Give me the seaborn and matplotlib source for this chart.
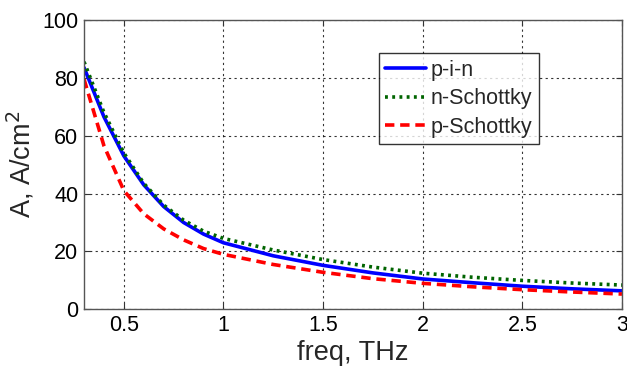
import matplotlib
matplotlib.use("Agg")
import matplotlib.pyplot as plt
import seaborn as sns
import pandas as pd

freq = [0.3, 0.4, 0.5, 0.6, 0.7, 0.8, 0.9, 1.0, 1.25, 1.5, 1.75, 2.0, 2.25, 2.5, 2.75, 3.0]
pin = [83.5, 66.5, 53, 43, 35.5, 30, 26, 23, 18.5, 15.2, 12.6, 10.5, 9.2, 8.0, 7.1, 6.4]
n_schottky = [85.5, 68, 54, 43.5, 36, 30.8, 27, 24.5, 20.5, 17.2, 14.6, 12.5, 11.1, 10.0, 9.1, 8.4]
p_schottky = [79.5, 56.5, 41, 33, 27.8, 24, 21, 19, 15.5, 12.8, 10.6, 9.0, 7.8, 6.8, 6.0, 5.3]
labels = ["p-i-n", "n-Schottky", "p-Schottky"]

sns.set_style("white")
plt.rcParams["font.family"] = ["Liberation Sans", "DejaVu Sans"]

fig = plt.figure(figsize=(6.27, 3.67), dpi=100)
ax = fig.add_axes([0.134, 0.157, 0.858, 0.789])

series = [pin, n_schottky, p_schottky]
colors = ["#0000ff", "#006400", "#ff0000"]
styles = ["-", (0, (0.8, 1.2)), (0, (2.6, 1.6))]
for lab, vals, col, ls in zip(labels, series, colors, styles):
    df = pd.DataFrame({"freq": freq, "A": vals})
    sns.lineplot(data=df, x="freq", y="A", ax=ax, color=col, label=lab,
                 linewidth=2.6, linestyle=ls)

ax.set_xlim(0.3, 3)
ax.set_ylim(0, 100)
ax.set_xticks([0.5, 1, 1.5, 2, 2.5, 3])
ax.set_xticklabels(["0.5", "1", "1.5", "2", "2.5", "3"])
ax.set_yticks([0, 20, 40, 60, 80, 100])
ax.grid(True, color="black", linestyle=(0, (2, 3)), linewidth=0.8, alpha=0.8)
for s in ax.spines.values():
    s.set_color("#555555")
    s.set_linewidth(1.0)
ax.tick_params(direction="in", length=4, labelsize=15.5, colors="black",
               top=True, right=True, bottom=True, left=True, pad=4)
ax.tick_params(color="#333333")
ax.set_xlabel("freq, THz", fontsize=19.5, labelpad=3)
ax.set_ylabel("A, A/cm$^2$", fontsize=19.5, labelpad=4)

leg = ax.legend(loc="upper left", bbox_to_anchor=(0.548, 0.884), fontsize=15.5,
                frameon=True, fancybox=False, edgecolor="black",
                handlelength=1.9, handletextpad=0.2, borderpad=0.3,
                labelspacing=0.35, borderaxespad=0)
leg.get_frame().set_linewidth(1.0)

fig.savefig("out.png", dpi=100)
